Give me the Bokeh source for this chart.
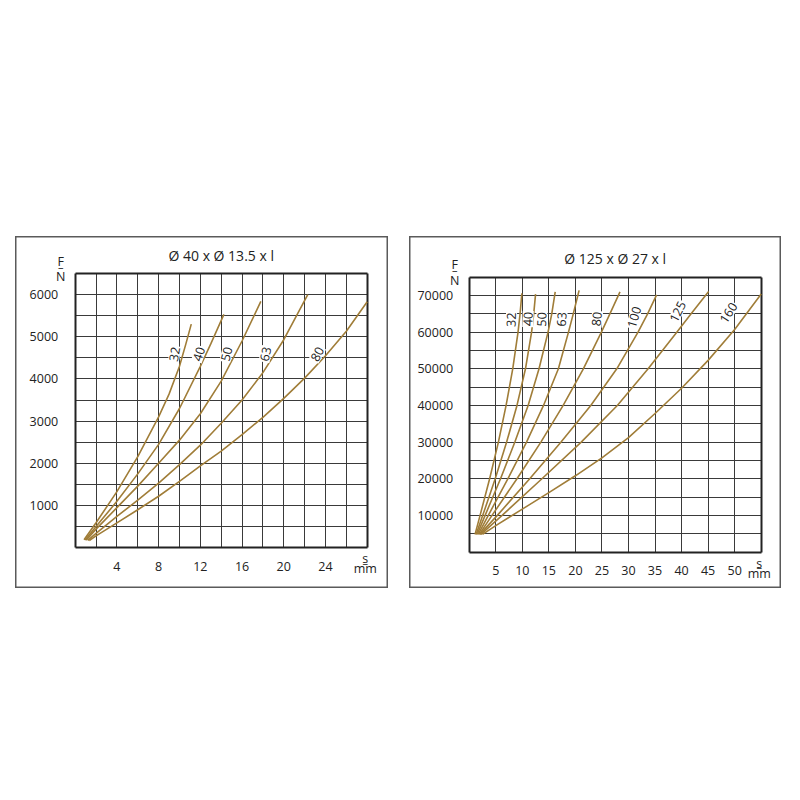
from bokeh.plotting import figure
from bokeh.models import Range1d, FixedTicker, Label, Spacer, BasicTickFormatter, Grid
from bokeh.layouts import row, column
from bokeh.embed import file_html
from bokeh.resources import INLINE

FONT = "Open Sans"
INK = "#222222"
GRID = "#3a3a3a"
FRAME = "#5a5a5a"
CURVE = "#a07d38"

# ---------------- Ø 40 x Ø 13.5 x l : spring travel s (mm) vs force F (N) ----------------
small_title = "Ø 40 x Ø 13.5 x l"
small_x_ticks = [4, 8, 12, 16, 20, 24]
small_y_ticks = [1000, 2000, 3000, 4000, 5000, 6000]

small_s_32 = [0.85, 2, 4, 6, 8, 9, 10, 10.6, 11.13]
small_F_32 = [190, 590, 1330, 2160, 3100, 3640, 4300, 4820, 5300]
small_s_40 = [0.95, 2, 4, 6, 8, 10, 12, 13, 14.26]
small_F_40 = [185, 500, 1100, 1750, 2450, 3300, 4300, 4830, 5530]
small_s_50 = [1.05, 2, 4, 6, 8, 10, 12, 14, 16, 17.8]
small_F_50 = [180, 440, 950, 1460, 2000, 2550, 3175, 3950, 4900, 5840]
small_s_63 = [1.2, 2, 4, 6, 8, 10, 12, 14, 16, 18, 20, 22.3]
small_F_63 = [175, 340, 740, 1130, 1530, 1970, 2430, 2950, 3500, 4150, 4930, 6000]
small_s_80 = [1.35, 2, 4, 6, 8, 10, 12, 14, 16, 18, 20, 22, 24, 26, 28]
small_F_80 = [170, 280, 590, 900, 1220, 1570, 1940, 2290, 2680, 3090, 3540, 4020, 4550, 5130, 5830]

# length label: text, s, F, rotation (deg)
small_tags = [("32", 9.53, 4590, 80), ("40", 11.86, 4590, 72), ("50", 14.52, 4590, 76),
              ("63", 18.26, 4590, 78), ("80", 23.22, 4590, 62)]

# ---------------- Ø 125 x Ø 27 x l ----------------
large_title = "Ø 125 x Ø 27 x l"
large_x_ticks = [5, 10, 15, 20, 25, 30, 35, 40, 45, 50]
large_y_ticks = [10000, 20000, 30000, 40000, 50000, 60000, 70000]

large_s_32 = [1.10, 2.05, 3.85, 5.50, 6.95, 8.20, 9.20, 9.58, 9.92]
large_F_32 = [4800, 10000, 20000, 30000, 40000, 50000, 60000, 65000, 70600]
large_s_40 = [1.30, 2.55, 4.90, 7.05, 9.0, 10.6, 11.75, 12.15, 12.5]
large_F_40 = [4800, 10000, 20000, 30000, 40000, 50000, 60000, 65000, 70400]
large_s_50 = [1.5, 3.0, 5.9, 8.6, 11.1, 13.15, 14.85, 15.55, 16.2]
large_F_50 = [4800, 10000, 20000, 30000, 40000, 50000, 60000, 65000, 71000]
large_s_63 = [1.7, 3.6, 7.3, 10.8, 14.0, 16.8, 18.7, 19.6, 20.7]
large_F_63 = [4800, 10000, 20000, 30000, 40000, 50000, 60000, 65000, 71400]
large_s_80 = [1.9, 4.3, 9.0, 13.5, 17.7, 21.5, 24.9, 26.5, 28.4]
large_F_80 = [4800, 10000, 20000, 30000, 40000, 50000, 60000, 65000, 71000]
large_s_100 = [2.0, 5.3, 11.4, 17.3, 22.9, 27.8, 31.8, 33.6, 35.3]
large_F_100 = [4800, 10000, 20000, 30000, 40000, 50000, 60000, 65000, 70200]
large_s_125 = [2.2, 6.2, 13.7, 21.1, 27.9, 33.7, 39.1, 41.8, 45.1]
large_F_125 = [4800, 10000, 20000, 30000, 40000, 50000, 60000, 65000, 71100]
large_s_160 = [2.5, 5, 10, 15, 20, 25, 30, 35, 40, 45, 50, 55]
large_F_160 = [4800, 7200, 11700, 16200, 20800, 25700, 31200, 37800, 44700, 52300, 60700, 70400]

large_tags = [("32", 7.93, 63400, 88), ("40", 11.07, 63600, 88), ("50", 13.65, 63500, 88),
              ("63", 17.43, 63500, 87), ("80", 24.04, 63600, 84), ("100", 31.08, 64100, 73),
              ("125", 39.28, 65600, 63), ("160", 48.83, 65300, 57)]

HAS_CROSS_BOUNDS = "cross_bounds" in Grid.properties()


def build_panel(title, x_end, y_end, x_step, y_step, x_ticks, y_ticks, series, tags,
                width, height, ml, mr, mt, mb, y_standoff):
    # the figure frame is the whole framed panel; the diagram sits inside it
    # with margins ml/mr/mt/mb (pixels) that hold the title and tick labels
    fw = width - ml - mr
    fh = height - mt - mb
    kx = x_end / fw      # data units per pixel
    ky = y_end / fh

    p = figure(width=width, height=height,
               x_range=Range1d(-ml * kx, x_end + mr * kx),
               y_range=Range1d(-mb * ky, y_end + mt * ky),
               output_backend="svg", toolbar_location=None, min_border=0)
    p.background_fill_color = "white"
    p.border_fill_color = "white"
    p.outline_line_color = FRAME
    p.outline_line_width = 2

    n_x = int(round(x_end / x_step))
    n_y = int(round(y_end / y_step))
    x_lines = [i * x_step for i in range(1, n_x)]
    y_lines = [i * y_step for i in range(1, n_y)]

    if HAS_CROSS_BOUNDS:
        p.xgrid.ticker = FixedTicker(ticks=x_lines)
        p.ygrid.ticker = FixedTicker(ticks=y_lines)
        p.xgrid.cross_bounds = (0, y_end)
        p.ygrid.cross_bounds = (0, x_end)
        for g in (p.xgrid, p.ygrid):
            g.grid_line_color = GRID
            g.grid_line_width = 1
        box_v = Grid(dimension=0, ticker=FixedTicker(ticks=[0, x_end]), cross_bounds=(0, y_end),
                     grid_line_color=INK, grid_line_width=2)
        box_h = Grid(dimension=1, ticker=FixedTicker(ticks=[0, y_end]), cross_bounds=(0, x_end),
                     grid_line_color=INK, grid_line_width=2)
        p.add_layout(box_v)
        p.add_layout(box_h)
    else:
        p.xgrid.visible = False
        p.ygrid.visible = False
        p.segment(x0=x_lines, y0=[0] * len(x_lines), x1=x_lines, y1=[y_end] * len(x_lines),
                  line_color=GRID, line_width=1)
        p.segment(x0=[0] * len(y_lines), y0=y_lines, x1=[x_end] * len(y_lines), y1=y_lines,
                  line_color=GRID, line_width=1)
        p.segment(x0=[0, x_end, 0, 0], y0=[0, 0, 0, y_end], x1=[0, x_end, x_end, x_end],
                  y1=[y_end, y_end, 0, y_end], line_color=INK, line_width=2)

    p.xaxis.ticker = FixedTicker(ticks=x_ticks)
    p.yaxis.ticker = FixedTicker(ticks=y_ticks)
    p.xaxis.fixed_location = 0
    p.yaxis.fixed_location = 0
    p.yaxis.formatter = BasicTickFormatter(use_scientific=False)
    for ax in (p.xaxis, p.yaxis):
        ax.axis_line_color = None
        ax.major_tick_line_color = None
        ax.minor_tick_line_color = None
        ax.major_label_text_font = FONT
        ax.major_label_text_font_size = "12.5px"
        ax.major_label_text_color = INK
    p.xaxis.major_label_standoff = 8
    p.yaxis.major_label_standoff = y_standoff

    for s, F in series:
        p.line(s, F, line_color=CURVE, line_width=1.6)

    for text, x, y, ang in tags:
        p.add_layout(Label(x=x, y=y, text=text, angle=ang, angle_units="deg",
                           text_align="center", text_baseline="middle",
                           text_font=FONT, text_font_size="12.5px", text_color=INK,
                           background_fill_color="white", padding=1))

    def note(text, dx, dy, size="12.5px"):
        p.add_layout(Label(x=dx * kx, y=dy * ky, text=text,
                           text_align="center", text_baseline="middle",
                           text_font=FONT, text_font_size=size, text_color=INK))

    # title above the diagram
    note(title, fw / 2, fh + 18.5, size="14px")
    # force unit F/N at the top of the y axis
    note("F", -14.5, fh + 12.5)
    note("–", -14.5, fh + 7.5, size="11px")
    note("N", -14.5, fh - 3)
    # travel unit s/mm at the end of the x axis
    note("s", fw - 2, -11)
    note("–", fw - 2, -14.5, size="11px")
    note("mm", fw - 2, -21)
    return p


left = build_panel(small_title, 28, 6500, 2, 500, small_x_ticks, small_y_ticks,
                   [(small_s_32, small_F_32), (small_s_40, small_F_40), (small_s_50, small_F_50),
                    (small_s_63, small_F_63), (small_s_80, small_F_80)],
                   small_tags, 373, 352, 59.7, 21.3, 37, 40.8, 11)

right = build_panel(large_title, 55, 75000, 5, 5000, large_x_ticks, large_y_ticks,
                    [(large_s_32, large_F_32), (large_s_40, large_F_40), (large_s_50, large_F_50),
                     (large_s_63, large_F_63), (large_s_80, large_F_80), (large_s_100, large_F_100),
                     (large_s_125, large_F_125), (large_s_160, large_F_160)],
                    large_tags, 372, 352, 59.7, 20.3, 40.7, 36.5, 10)

page = column(Spacer(width=781, height=236),
              row(Spacer(width=15, height=352), left, Spacer(width=21, height=352), right))

open("out.html", "w").write(file_html(page, INLINE))
